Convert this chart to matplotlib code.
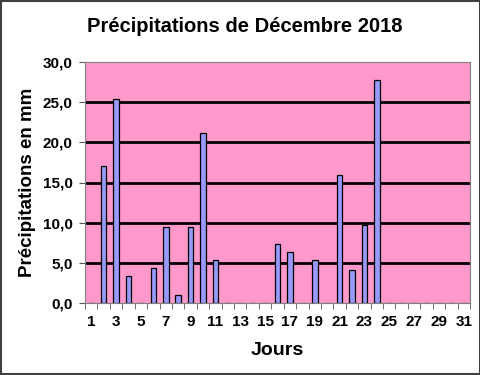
import matplotlib

matplotlib.use("Agg")
import matplotlib.pyplot as plt
import numpy as np

plt.rcParams["font.family"] = ["Liberation Sans", "DejaVu Sans"]
plt.rcParams["font.weight"] = "bold"

# Daily rainfall, December 2018 (mm); days without rain are 0
days = list(range(1, 32))
rain = [0, 17.1, 25.4, 3.4, 0, 4.4, 9.5, 1.0, 9.5, 21.2, 5.35,
        0, 0, 0, 0, 7.4, 6.4, 0, 5.4, 0, 15.9, 4.1, 9.7, 27.7,
        0, 0, 0, 0, 0, 0, 0]
yticks = [0, 5, 10, 15, 20, 25, 30]
xlabels = list(range(1, 32, 2))

fig = plt.figure(figsize=(4.81, 3.75), dpi=100)
ax = fig.add_axes([85 / 481, 1 - 303 / 375, 385 / 481, 241 / 375])
ax.set_facecolor("#FF99CC")

ax.bar(days, rain, width=0.45, color="#9999FF", edgecolor="black",
       linewidth=0.9, zorder=3)
for y in yticks[1:-1]:
    ax.axhline(y, color="black", lw=2, zorder=2)

ax.set_xlim(0.5, 31.5)
ax.set_ylim(0, 30)
ax.set_yticks(yticks)
ax.set_yticklabels([f"{v:.1f}".replace(".", ",") for v in yticks], fontsize=11)
ax.set_xticks(xlabels)
ax.set_xticklabels([str(d) for d in xlabels], fontsize=11)
ax.set_xticks(np.arange(0.5, 32, 1), minor=True)
ax.tick_params(axis="x", which="major", length=0, pad=9)
ax.tick_params(axis="x", which="minor", length=4, color="#555555")
ax.tick_params(axis="y", length=4, color="#555555", pad=5)
for s in ax.spines.values():
    s.set_color("#808080")

ax.set_xlabel("Jours", fontsize=14, fontweight="bold", labelpad=9)
ax.set_ylabel("Précipitations en mm", fontsize=13.5, fontweight="bold", labelpad=5)
fig.text(245 / 481, 1 - 27 / 375, "Précipitations de Décembre 2018", ha="center",
         va="center", fontsize=14.5, fontweight="bold")

fig.patches.append(plt.Rectangle((0.002, 0.003), 0.995, 0.994, transform=fig.transFigure,
                                 fill=False, edgecolor="#404040", lw=1.5))
fig.savefig("out.png", dpi=100)
